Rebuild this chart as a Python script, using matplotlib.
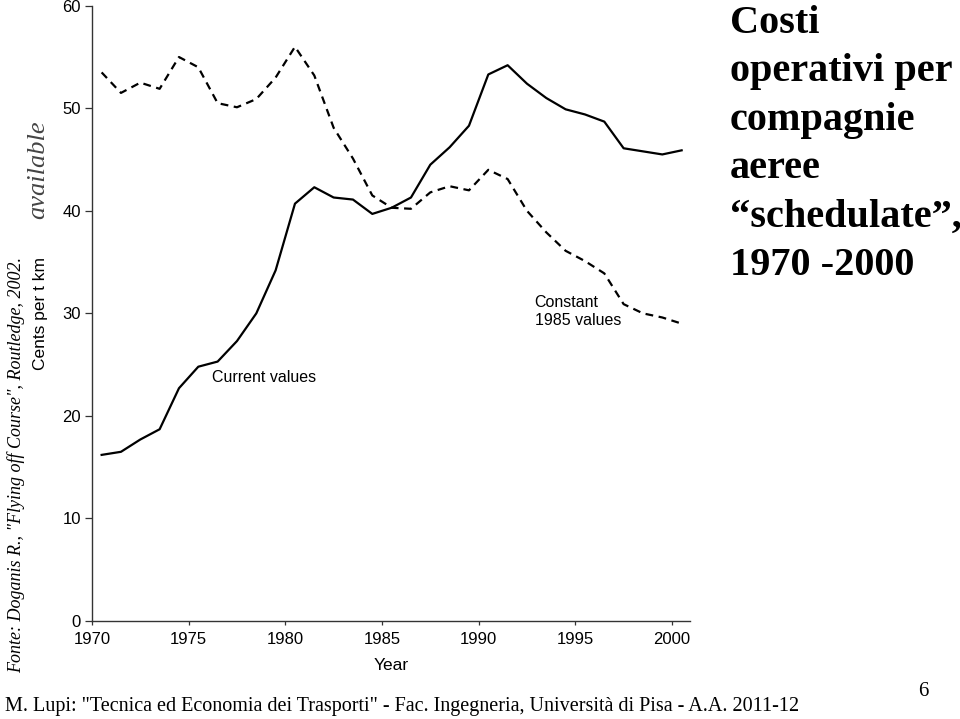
"""Costi operativi per compagnie aeree schedulate, 1970-2000 (slide recreation)."""

import matplotlib
matplotlib.use("Agg")
import matplotlib.pyplot as plt
import numpy as np

# cents per tonne-km, one value per year 1970..2000
years = np.arange(1970, 2001)
current_values = [16.2, 16.5, 17.7, 18.7, 22.7, 24.8, 25.3, 27.3, 30.0, 34.2,
                  40.7, 42.3, 41.3, 41.1, 39.7, 40.3, 41.3, 44.5, 46.2, 48.3,
                  53.3, 54.2, 52.4, 51.0, 49.9, 49.4, 48.7, 46.1, 45.8, 45.5,
                  45.9]
constant_1985 = [53.5, 51.5, 52.5, 51.9, 55.0, 54.0, 50.5, 50.1, 50.9, 53.0,
                 56.0, 53.2, 48.1, 45.1, 41.5, 40.3, 40.2, 41.8, 42.4, 42.0,
                 44.0, 43.1, 40.0, 37.9, 36.1, 35.1, 33.9, 30.9, 30.0, 29.6,
                 29.0]
xticks = [1970, 1975, 1980, 1985, 1990, 1995, 2000]
yticks = [0, 10, 20, 30, 40, 50, 60]

title = "Costi\noperativi per\ncompagnie\naeree\n\u201cschedulate\u201d,\n1970 -2000"
source = "Fonte: Doganis R., \"Flying off Course\", Routledge, 2002."
footer = ("M. Lupi: \"Tecnica ed Economia dei Trasporti\" - Fac. Ingegneria, "
          "Universit\u00e0 di Pisa - A.A. 2011-12")

plt.rcParams["font.family"] = ["Liberation Sans", "DejaVu Sans"]

fig = plt.figure(figsize=(9.6, 7.19), dpi=100)
ax = fig.add_axes([0.0958, 0.1363, 0.6229, 0.8557])

x = years + 0.5
ax.plot(x, current_values, color="black", linewidth=1.6)
ax.plot(x, constant_1985, color="black", linewidth=1.6,
        linestyle=(0, (3.5, 2.5)))

ax.set_xlim(1970, 2000.93)
ax.set_ylim(0, 60)
ax.set_xticks(xticks)
ax.set_yticks(yticks)
ax.tick_params(axis="both", labelsize=12, direction="out", width=0.9,
               color="#333333")
ax.tick_params(axis="x", length=3, pad=5)
ax.tick_params(axis="y", length=5, pad=3)
ax.spines["right"].set_visible(False)
ax.spines["top"].set_visible(False)
for s in ("left", "bottom"):
    ax.spines[s].set_linewidth(1.0)
    ax.spines[s].set_color("#333333")

ax.set_xlabel("Year", fontsize=12.5, labelpad=8)
ax.set_ylabel("Cents per t km", fontsize=12.5, labelpad=10)

ax.text(1976.2, 23.7, "Current values", fontsize=11.5, va="center")
ax.text(1992.9, 30.2, "Constant\n1985 values", fontsize=11.5, va="center",
        linespacing=1.3)

fig.text(0.7604, 1 - 5 / 719, title, family="Liberation Serif",
         fontweight="bold", fontsize=29, va="top", ha="left",
         linespacing=1.41)
fig.text(0.017, 1 - 465 / 719, source, family="Liberation Serif",
         style="italic", fontsize=13, rotation=90, ha="center", va="center")
fig.text(0.040, 1 - 170 / 719, "available", family="Liberation Serif",
         style="italic", fontsize=19, rotation=90, ha="center", va="center",
         color="#444444")
fig.text(0.005, 1 - 707 / 719, footer, family="Liberation Serif",
         fontsize=14.5, ha="left", va="center")
fig.text(0.956, 1 - 691 / 719, "6", family="Liberation Serif",
         fontsize=15, ha="left", va="center")

fig.savefig("out.png", dpi=100, facecolor="white")
